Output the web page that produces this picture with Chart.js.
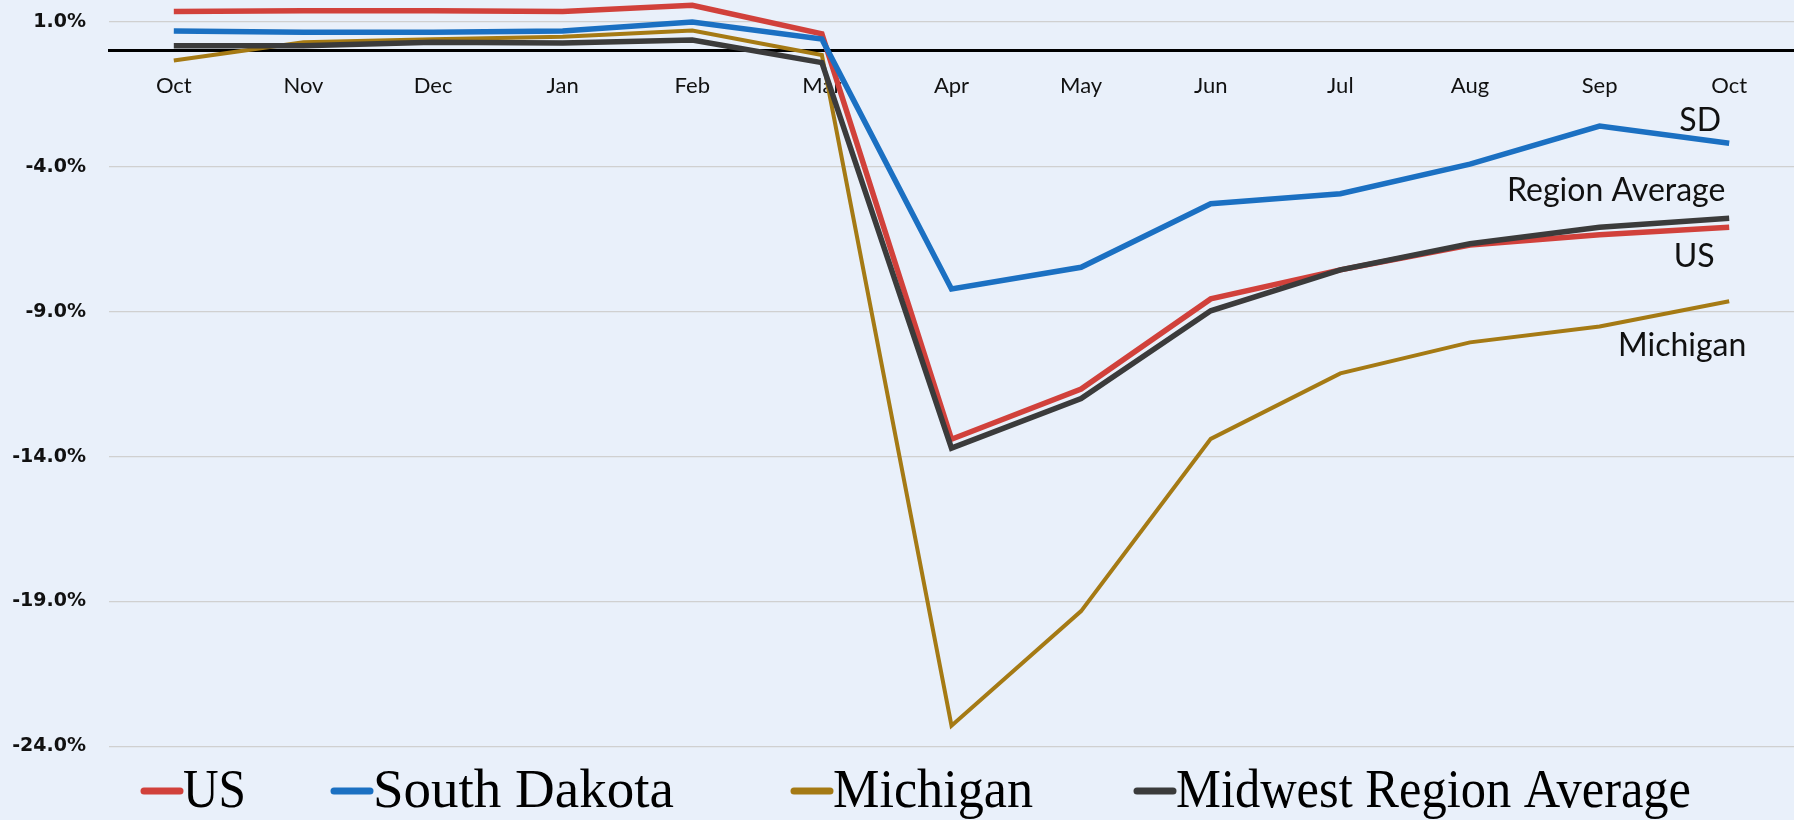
<!DOCTYPE html>
<html>
<head>
<meta charset="utf-8">
<script src="https://cdn.jsdelivr.net/npm/chart.js@4/dist/chart.umd.min.js"></script>
<style>
  html, body { margin: 0; padding: 0; background: #e9f0fa; }
  #wrap { width: 1794px; height: 820px; position: relative; }
</style>
</head>
<body>
<div id="wrap"><canvas id="c" width="1794" height="820"></canvas></div>
<script>
const months = ['Oct','Nov','Dec','Jan','Feb','Mar','Apr','May','Jun','Jul','Aug','Sep','Oct'];
const usValues       = [1.35, 1.38, 1.38, 1.35, 1.57, 0.58, -13.40, -11.67, -8.56, -7.56, -6.70, -6.35, -6.09];
const southDakota    = [0.68, 0.64, 0.64, 0.68, 0.99, 0.40, -8.22, -7.47, -5.28, -4.93, -3.91, -2.60, -3.19];
const michigan       = [-0.34, 0.29, 0.40, 0.48, 0.70, -0.15, -23.28, -19.33, -13.39, -11.13, -10.06, -9.51, -8.64];
const midwestAverage = [0.17, 0.17, 0.29, 0.27, 0.37, -0.41, -13.71, -12.00, -8.97, -7.56, -6.66, -6.09, -5.78];
const yTicks = [1, -4, -9, -14, -19, -24];

const seriesNames  = ['US', 'South Dakota', 'Michigan', 'Midwest Region Average'];
const seriesColors = ['#d1413b', '#1b70c2', '#a57a14', '#3b3b3b'];

// end-of-line annotations: text, value (y), x offset from the last category
const endLabels = [
  { text: 'SD', value: -2.40, dx: -29 },
  { text: 'Region Average', value: -4.82, dx: -113 },
  { text: 'US', value: -7.10, dx: -35 },
  { text: 'Michigan', value: -10.17, dx: -47 }
];

const endLabelPlugin = {
  id: 'endLabels',
  afterDatasetsDraw(chart) {
    const {ctx, scales: {x, y}} = chart;
    ctx.save();
    ctx.font = '32px Lato';
    ctx.fillStyle = '#111';
    ctx.textAlign = 'center';
    ctx.textBaseline = 'middle';
    const xi = x.getPixelForValue(months.length - 1);
    endLabels.forEach(l => {
      ctx.fillText(l.text, xi + l.dx, y.getPixelForValue(l.value));
    });
    ctx.restore();
  }
};

const legendPlugin = {
  id: 'customLegend',
  afterDraw(chart) {
    const ctx = chart.ctx;
    const starts = [140, 330, 790, 1133];
    const textWidths = [63, 305, 200, 515];
    ctx.save();
    ctx.font = '55px "Liberation Serif"';
    ctx.textBaseline = 'alphabetic';
    ctx.textAlign = 'left';
    seriesNames.forEach((name, i) => {
      const x0 = starts[i];
      ctx.strokeStyle = seriesColors[i];
      ctx.lineWidth = 7;
      ctx.lineCap = 'round';
      ctx.beginPath();
      ctx.moveTo(x0 + 4, 791);
      ctx.lineTo(x0 + 40, 791);
      ctx.stroke();
      ctx.fillStyle = '#000';
      const w = ctx.measureText(name).width;
      ctx.save();
      ctx.translate(x0 + 43, 807);
      ctx.scale(Math.min(textWidths[i] / w, 1.0), 1);
      ctx.fillText(name, 0, 0);
      ctx.restore();
    });
    ctx.restore();
  }
};

const widths = [5.5, 5.5, 4, 5.5];
const orders = [3, 2, 1, 0];
const seriesData = [usValues, southDakota, michigan, midwestAverage];

new Chart(document.getElementById('c'), {
  type: 'line',
  data: {
    labels: months,
    datasets: seriesNames.map((n, i) => ({
      label: n,
      data: seriesData[i],
      borderColor: seriesColors[i],
      backgroundColor: seriesColors[i],
      borderWidth: widths[i],
      pointRadius: 0,
      tension: 0,
      order: orders[i],
      borderJoinStyle: 'miter',
      clip: false
    }))
  },
  options: {
    responsive: false,
    animation: false,
    layout: { padding: { left: 9, right: 0, top: 0, bottom: 59 } },
    plugins: { legend: { display: false }, tooltip: { enabled: false } },
    scales: {
      x: {
        position: { y: 0 },
        offset: true,
        grid: { display: false, drawTicks: false },
        border: { display: true, color: '#000', width: 3 },
        ticks: { color: '#111', font: { family: 'Lato', size: 22 }, padding: 22, maxRotation: 0, autoSkip: false },
        afterFit(scale) { scale.paddingLeft = 0; scale.paddingRight = 0; scale.paddingTop = 0; scale.paddingBottom = 0; }
      },
      y: {
        min: -24.5,
        max: 1.75,
        afterBuildTicks(scale) { scale.ticks = yTicks.map(v => ({ value: v })); },
        afterFit(scale) { scale.width = 100; scale.paddingTop = 0; scale.paddingBottom = 0; },
        grid: { color: '#d0d0d0', lineWidth: 1.2, drawTicks: false },
        border: { display: false },
        ticks: {
          color: '#111',
          padding: 23,
          font: { family: 'DejaVu Sans', size: 19, weight: 'bold' },
          callback: v => v.toFixed(1) + '%'
        }
      }
    }
  },
  plugins: [endLabelPlugin, legendPlugin]
});
</script>
</body>
</html>
